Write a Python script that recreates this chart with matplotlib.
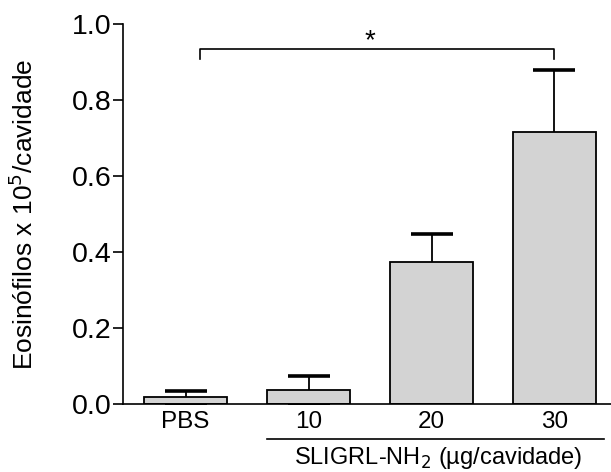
import matplotlib
matplotlib.use('Agg')
import matplotlib.pyplot as plt
import matplotlib.transforms as mtransforms
import numpy as np

plt.rcParams['font.family'] = ['Liberation Sans', 'DejaVu Sans']

# Data
groups = ['PBS', '10', '20', '30']
means = [0.018, 0.038, 0.373, 0.717]
sem = [0.017, 0.037, 0.074, 0.163]

fig = plt.figure(figsize=(6.11, 4.72), dpi=100)
ax = fig.add_axes([0.2013, 0.144, 0.7987, 0.8045])

x = np.arange(len(groups))
# symmetric error bars drawn behind the bars, so only the upper half shows
ax.errorbar(x, means, yerr=sem, fmt='none', ecolor='black',
            elinewidth=1.3, capsize=15, capthick=2.6, zorder=1)
ax.bar(x, means, width=0.675, color='#d3d3d3', edgecolor='black', linewidth=1.3, zorder=2)

ax.set_xlim(-0.51, 3.46)
ax.set_ylim(0, 1.0)
ax.set_yticks([0.0, 0.2, 0.4, 0.6, 0.8, 1.0])
ax.set_yticklabels(['0.0', '0.2', '0.4', '0.6', '0.8', '1.0'])
ax.set_xticks(x)
ax.set_xticklabels(groups)
ax.tick_params(axis='y', labelsize=20.5, length=7, width=1.2, pad=1)
ax.tick_params(axis='x', labelsize=17.5, length=0, pad=5)

for s in ['top', 'right']:
    ax.spines[s].set_visible(False)
for s in ['left', 'bottom']:
    ax.spines[s].set_linewidth(1.2)
    ax.spines[s].set_zorder(3)

ax.set_ylabel('Eosinófilos x 10$^5$/cavidade', fontsize=19)
ax.yaxis.set_label_coords(-0.175, 0.5)

# significance bracket PBS vs 30
ax.plot([0.12, 0.12, 3.0, 3.0], [0.909, 0.934, 0.934, 0.909], color='black', lw=1.2, clip_on=False)
ax.text(1.5, 0.92, '*', ha='center', va='bottom', fontsize=20)

# group line and label under the doses
trans = mtransforms.blended_transform_factory(ax.transData, ax.transAxes)
ax.plot([0.66, 3.40], [-0.092, -0.092], color='black', lw=1.2, transform=trans, clip_on=False)
ax.text(2.05, -0.143, 'SLIGRL-NH$_2$ (µg/cavidade)', ha='center', va='center',
        fontsize=17, transform=trans)

fig.savefig('out.png', dpi=100)
